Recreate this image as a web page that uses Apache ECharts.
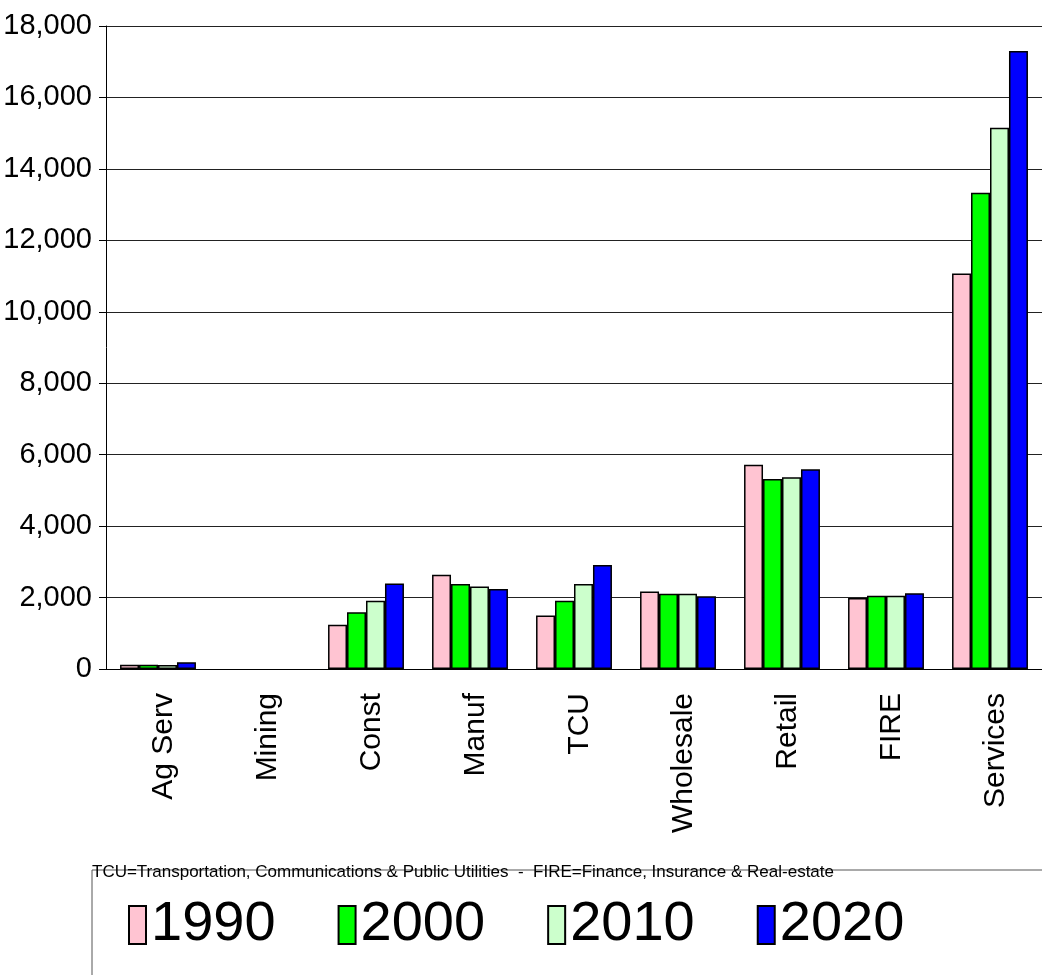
<!DOCTYPE html>
<html>
<head>
<meta charset="utf-8">
<script src="https://cdn.jsdelivr.net/npm/echarts@6/dist/echarts.min.js"></script>
<style>
  html, body { margin: 0; padding: 0; background: #fff; }
  #main { width: 1042px; height: 975px; }
</style>
</head>
<body>
<div id="main"></div>
<script>
// employment by sector
var categories = ['Ag Serv', 'Mining', 'Const', 'Manuf', 'TCU', 'Wholesale', 'Retail', 'FIRE', 'Services']
var years = ['1990', '2000', '2010', '2020']
// mining is too small to show up in the picture
var v1990 = [120, null, 1240, 2640, 1500, 2170, 5720, 1990, 11070]
var v2000 = [120, null, 1590, 2380, 1910, 2110, 5320, 2050, 13330]
var v2010 = [115, null, 1910, 2310, 2380, 2110, 5370, 2050, 15150]
var v2020 = [190, null, 2390, 2240, 2910, 2040, 5590, 2120, 17300]
var yTicks = [0, 2000, 4000, 6000, 8000, 10000, 12000, 14000, 16000, 18000]
var colors = ['#ffc4d2', '#00ff00', '#ccffcc', '#0000ff']
var note = 'TCU=Transportation, Communications & Public Utilities  -  FIRE=Finance, Insurance & Real-estate'

var font = '"Liberation Sans", Arial, sans-serif'
var chart = echarts.init(document.getElementById('main'))

function makeSeries(name, data, i) {
  return {
    name: name,
    type: 'bar',
    data: data,
    barGap: '0%',
    barCategoryGap: '27%',
    itemStyle: {
      color: colors[i],
      borderColor: '#000',
      borderWidth: 1.5
    }
  }
}

var option = {
  animation: false,
  backgroundColor: '#fff',
  grid: {
    left: 106,
    right: 0,
    top: 26,
    bottom: 306,
    outerBoundsMode: 'none'
  },
  legend: {
    data: years,
    left: 123,
    top: 892,
    icon: 'rect',
    itemWidth: 17,
    itemHeight: 38,
    itemGap: 62,
    textStyle: {
      fontFamily: font,
      fontSize: 56,
      color: '#000',
      padding: [0, 0, 0, 0]
    }
  },
  xAxis: {
    type: 'category',
    data: categories,
    axisLine: { lineStyle: { color: '#000', width: 1 } },
    axisTick: { length: 10, lineStyle: { color: '#000' } },
    axisLabel: {
      rotate: 90,
      margin: 24,
      formatter: function (v) { return '{c|' + v + '}' },
      rich: {
        c: {
          padding: [12, 0, 0, 0],
          fontFamily: font,
          fontSize: 30,
          color: '#000'
        }
      }
    }
  },
  yAxis: {
    type: 'value',
    min: yTicks[0],
    max: yTicks[yTicks.length - 1],
    interval: 2000,
    axisLine: { show: true, lineStyle: { color: '#000', width: 1 } },
    axisTick: { show: true, length: 7, lineStyle: { color: '#000' } },
    splitLine: { lineStyle: { color: '#222', width: 1 } },
    axisLabel: {
      margin: 14,
      fontFamily: font,
      fontSize: 29,
      color: '#000',
      formatter: function (v) { return v.toLocaleString('en-US') }
    }
  },
  graphic: [
    {
      type: 'polyline',
      shape: { points: [[92, 975], [92, 870], [1042, 870]] },
      style: { stroke: '#555', lineWidth: 1, fill: null },
      z: 1
    },
    {
      type: 'text',
      left: 92,
      top: 864,
      style: {
        text: note,
        fontFamily: font,
        fontSize: 17,
        fill: '#000'
      },
      z: 2
    }
  ],
  series: [
    makeSeries(years[0], v1990, 0),
    makeSeries(years[1], v2000, 1),
    makeSeries(years[2], v2010, 2),
    makeSeries(years[3], v2020, 3)
  ]
}

chart.setOption(option)
</script>
</body>
</html>
